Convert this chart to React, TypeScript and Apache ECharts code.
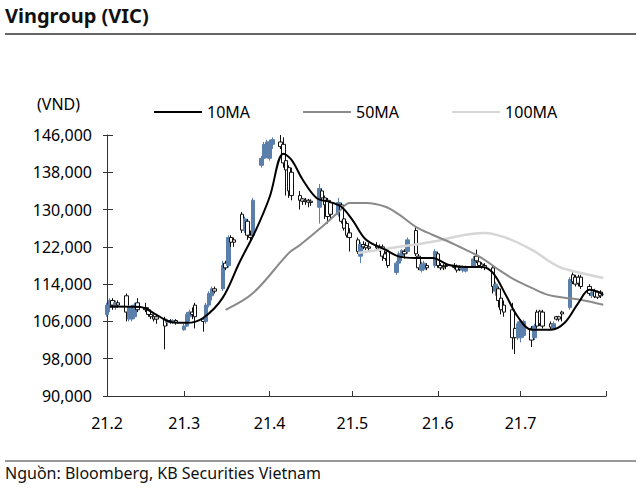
import React, { useEffect, useRef } from "react";
import * as echarts from "echarts";

// Daily candles, VND: [date (MM-DD, 2021), open, close, low, high]
const febCandles: [string, number, number, number, number][] = [
  ["02-01", 107500, 109500, 107000, 110000],
  ["02-02", 109000, 110500, 108000, 111000],
  ["02-03", 110500, 109500, 108500, 111000],
  ["02-04", 109000, 110000, 108500, 110500],
  ["02-05", 110000, 109500, 109000, 110500],
  ["02-08", 111500, 108000, 106000, 112000],
  ["02-09", 106500, 109000, 106000, 109500],
  ["02-10", 106500, 109000, 106000, 109500],
  ["02-11", 107000, 109500, 106500, 110000],
  ["02-12", 110000, 108500, 108000, 111000],
  ["02-15", 109000, 108500, 108000, 110000],
  ["02-16", 108500, 107500, 107000, 109000],
  ["02-17", 107500, 107000, 106500, 108000],
  ["02-18", 107000, 106500, 106000, 107500],
  ["02-19", 107000, 106500, 105500, 107500],
  ["02-22", 106500, 105000, 100000, 107000],
  ["02-23", 105800, 106000, 105000, 106500],
  ["02-24", 106200, 106000, 105500, 106500],
  ["02-25", 106000, 106200, 105500, 106500],
  ["02-26", 106200, 105800, 105300, 106500],
];

const marCandles: [string, number, number, number, number][] = [
  ["03-01", 104200, 105000, 104000, 105500],
  ["03-02", 105000, 107500, 104800, 108000],
  ["03-03", 107000, 108000, 106000, 108500],
  ["03-04", 108000, 107500, 106500, 109000],
  ["03-05", 109500, 107000, 104500, 110000],
  ["03-08", 106500, 106000, 103800, 107000],
  ["03-09", 106000, 109500, 105500, 110000],
  ["03-10", 109500, 112000, 109000, 112500],
  ["03-11", 111500, 113000, 110500, 113500],
  ["03-12", 113000, 112500, 112000, 113500],
  ["03-15", 113000, 118000, 112500, 119000],
  ["03-16", 118500, 117500, 117000, 119000],
  ["03-17", 118000, 124000, 117500, 124500],
  ["03-18", 124000, 123000, 122000, 124500],
  ["03-19", 123500, 123000, 122000, 124000],
  ["03-22", 129000, 125600, 125000, 129500],
  ["03-23", 125500, 128000, 125000, 128500],
  ["03-24", 127500, 124500, 123500, 128000],
  ["03-25", 124500, 124000, 123000, 125500],
  ["03-26", 124500, 132000, 124000, 132500],
  ["03-29", 139500, 141000, 139000, 141500],
  ["03-30", 141000, 144000, 140000, 144500],
  ["03-31", 143500, 144500, 141000, 145000],
];

const aprCandles: [string, number, number, number, number][] = [
  ["04-01", 141000, 144500, 140500, 145000],
  ["04-02", 144000, 145000, 143000, 145500],
  ["04-05", 144500, 143500, 143000, 146000],
  ["04-06", 144000, 140000, 139000, 145500],
  ["04-07", 140500, 138500, 133000, 141000],
  ["04-08", 139000, 134000, 132500, 139500],
  ["04-09", 138000, 133000, 132000, 139000],
  ["04-12", 133000, 132000, 130000, 134000],
  ["04-13", 132300, 131800, 131000, 132500],
  ["04-14", 132000, 131700, 131000, 132500],
  ["04-15", 132000, 131600, 130500, 132300],
  ["04-16", 131800, 131500, 130800, 132200],
  ["04-19", 130500, 134500, 127000, 135500],
  ["04-20", 134000, 132500, 132000, 134500],
  ["04-21", 132500, 131000, 128000, 133000],
  ["04-22", 132000, 128500, 127000, 132500],
  ["04-23", 131500, 129000, 128000, 132000],
  ["04-26", 129000, 131500, 128500, 132500],
  ["04-27", 131000, 127500, 127000, 131500],
  ["04-28", 128000, 126000, 125500, 128500],
  ["04-29", 127000, 124500, 124000, 127500],
  ["04-30", 125000, 124000, 121000, 126000],
];

const mayCandles: [string, number, number, number, number][] = [
  ["05-03", 123500, 121000, 120500, 124000],
  ["05-04", 120000, 122500, 118500, 123000],
  ["05-05", 122500, 122000, 121500, 123200],
  ["05-06", 122300, 121800, 121300, 123000],
  ["05-07", 122000, 121700, 121000, 122800],
  ["05-10", 122200, 121800, 121200, 123000],
  ["05-11", 122000, 121500, 121000, 122500],
  ["05-12", 122000, 120000, 119000, 122500],
  ["05-13", 120500, 119500, 119000, 121000],
  ["05-14", 121000, 118000, 117500, 121500],
  ["05-17", 116500, 118500, 116000, 119000],
  ["05-18", 118500, 120500, 118000, 121000],
  ["05-19", 120000, 121200, 119000, 121500],
  ["05-20", 121000, 120500, 119500, 121500],
  ["05-21", 121000, 123500, 120500, 124000],
  ["05-24", 125500, 120500, 120000, 126300],
  ["05-25", 120000, 117500, 117000, 120500],
  ["05-26", 117000, 118200, 116500, 118800],
  ["05-27", 117200, 118500, 116800, 119000],
  ["05-28", 118000, 117500, 117000, 118500],
  ["05-31", 118000, 121000, 117500, 121500],
];

const junCandles: [string, number, number, number, number][] = [
  ["06-01", 120500, 118000, 117500, 121000],
  ["06-02", 118000, 117500, 117000, 118500],
  ["06-03", 117800, 117500, 117000, 118300],
  ["06-04", 118000, 117800, 117200, 118500],
  ["06-07", 118000, 117600, 117200, 118500],
  ["06-08", 117800, 117000, 116500, 118200],
  ["06-09", 117500, 117200, 116800, 118000],
  ["06-10", 117000, 117500, 116500, 118000],
  ["06-11", 116800, 117600, 116500, 118000],
  ["06-14", 117800, 119400, 117500, 120000],
  ["06-15", 120000, 119000, 118500, 121400],
  ["06-16", 118800, 118000, 117500, 119000],
  ["06-17", 118300, 117800, 117300, 118700],
  ["06-18", 118000, 117600, 117000, 118500],
  ["06-21", 117500, 113500, 112000, 118000],
  ["06-22", 112500, 114000, 111500, 114500],
  ["06-23", 113000, 110500, 109000, 113500],
  ["06-24", 111000, 108500, 107500, 111500],
  ["06-25", 109500, 108000, 107000, 110500],
  ["06-28", 108500, 102500, 100000, 110000],
  ["06-29", 104500, 102500, 99000, 105000],
  ["06-30", 102500, 105500, 102000, 106000],
];

const julCandles: [string, number, number, number, number][] = [
  ["07-01", 102500, 106000, 101500, 106500],
  ["07-02", 103000, 106000, 102500, 106400],
  ["07-05", 104500, 102000, 100500, 105000],
  ["07-06", 102500, 105000, 102000, 105500],
  ["07-07", 108000, 105000, 104500, 108500],
  ["07-08", 108200, 105500, 105000, 108500],
  ["07-09", 108000, 105000, 104500, 108500],
  ["07-12", 105500, 104800, 104300, 106000],
  ["07-13", 104500, 105500, 104200, 106000],
  ["07-14", 107000, 106500, 106200, 107200],
  ["07-15", 107000, 106500, 106000, 107200],
  ["07-16", 108000, 107600, 106000, 108300],
  ["07-19", 109000, 115000, 108500, 115500],
  ["07-20", 116000, 114500, 114000, 116500],
  ["07-21", 115500, 114000, 113500, 116000],
  ["07-22", 115500, 114200, 113500, 116000],
  ["07-23", 115500, 113500, 113000, 116000],
  ["07-26", 113500, 112000, 111500, 114000],
  ["07-27", 111500, 112300, 111000, 112700],
  ["07-28", 112500, 111300, 111000, 113000],
  ["07-29", 112300, 111200, 110800, 112600],
  ["07-30", 112300, 111500, 111000, 112700],
];

// Moving averages: [date, VND]
const ma10: [string, number][] = [
  ["02-02", 109200], ["02-13", 109100], ["02-19", 107400], ["02-24", 105900],
  ["03-02", 105700], ["03-08", 106800], ["03-15", 111100], ["03-21", 118600],
  ["03-27", 125600], ["04-01", 132700], ["04-06", 142000], ["04-09", 140600],
  ["04-13", 136400], ["04-18", 132500], ["04-23", 131600], ["04-27", 130600],
  ["05-01", 127800], ["05-06", 123500], ["05-13", 121400], ["05-18", 119900],
  ["05-24", 119600], ["05-30", 119600], ["06-05", 118100], ["06-11", 117700],
  ["06-17", 117700], ["06-21", 116400], ["06-26", 111300], ["06-30", 107000],
  ["07-05", 104200], ["07-12", 104200], ["07-17", 105700], ["07-22", 110000],
  ["07-26", 112800], ["07-29", 112400], ["07-31", 111700],
];

const ma50: [string, number][] = [
  ["03-16", 108500], ["03-26", 112100], ["04-08", 120700], ["04-12", 122400],
  ["04-20", 126300], ["04-26", 129500], ["04-30", 131400], ["05-06", 131400],
  ["05-13", 130600], ["05-18", 128900], ["05-24", 126300], ["05-30", 124600],
  ["06-05", 123100], ["06-11", 121400], ["06-17", 119600], ["06-23", 117100],
  ["06-29", 114900], ["07-05", 113200], ["07-11", 111700], ["07-17", 111100],
  ["07-23", 110600], ["07-31", 109600],
];

const ma100: [string, number][] = [
  ["05-03", 120700], ["05-18", 122000], ["05-30", 123100], ["06-11", 124600],
  ["06-18", 125000], ["06-26", 123900], ["07-05", 121400], ["07-15", 117700],
  ["07-23", 116400], ["07-31", 115300],
];

const seriesNames = ["10MA", "50MA", "100MA"];
const seriesColors = ["#000000", "#8a8a8a", "#d6d6d6"];
const yMin = 90000;
const yMax = 146000;
const yStep = 8000;
const firstDay = "2021-02-01";
const lastDay = "2021-08-01";

function buildCalendar(): string[] {
  const out: string[] = [];
  const d = new Date(firstDay + "T00:00:00Z");
  const end = new Date(lastDay + "T00:00:00Z");
  while (d <= end) {
    const m = String(d.getUTCMonth() + 1).padStart(2, "0");
    const day = String(d.getUTCDate()).padStart(2, "0");
    out.push(`${m}-${day}`);
    d.setUTCDate(d.getUTCDate() + 1);
  }
  return out;
}

export default function App() {
  const ref = useRef<HTMLDivElement>(null);

  useEffect(() => {
    if (!ref.current) return;
    const chart = echarts.init(ref.current, undefined, { renderer: "svg" });
    const days = buildCalendar();
    const pos = (k: string) => days.indexOf(k);
    const candles = [
      ...febCandles, ...marCandles, ...aprCandles,
      ...mayCandles, ...junCandles, ...julCandles,
    ].map((r) => [pos(r[0]), r[1], r[2], r[3], r[4]]);
    const maData = [ma10, ma50, ma100].map((arr) => arr.map((p) => [pos(p[0]), p[1]]));
    const font = "'Noto Sans', sans-serif";
    const isMonthStart = (_i: number, v: string) => v.endsWith("-01");

    const yAxisBase = {
      type: "value",
      min: yMin,
      max: yMax,
      interval: yStep,
      splitLine: { show: false },
    };

    chart.setOption({
      animation: false,
      textStyle: { fontFamily: font },
      grid: { left: 107, right: 34, top: 135, bottom: 98, containLabel: false },
      legend: {
        data: seriesNames,
        left: 149,
        top: 99,
        icon: "rect",
        itemWidth: 48,
        itemHeight: 2,
        itemGap: 53,
        textStyle: { fontSize: 16, color: "#000", fontFamily: font },
      },
      xAxis: {
        type: "category",
        data: days,
        boundaryGap: false,
        axisLine: { lineStyle: { color: "#333", width: 1 } },
        axisTick: { show: true, inside: true, length: 5, interval: isMonthStart, lineStyle: { color: "#333" } },
        axisLabel: {
          interval: (i: number, v: string) => v.endsWith("-01") && v !== "08-01",
          formatter: (v: string) => "21." + Number(v.slice(0, 2)),
          margin: 19,
          fontSize: 16,
          color: "#000",
          fontFamily: font,
        },
        splitLine: { show: false },
      },
      yAxis: [
        {
          ...yAxisBase,
          axisLine: { show: true, lineStyle: { color: "#333", width: 1 } },
          axisTick: { show: true, length: 4, lineStyle: { color: "#333" } },
          axisLabel: {
            formatter: (v: number) => v.toLocaleString("en-US"),
            fontSize: 16,
            color: "#000",
            margin: 15,
            fontFamily: font,
          },
        },
        {
          ...yAxisBase,
          position: "left",
          axisLine: { show: false },
          axisTick: { show: true, inside: true, length: 6, lineStyle: { color: "#333" } },
          axisLabel: { show: false },
        },
      ],
      series: [
        {
          name: "VIC",
          type: "candlestick",
          data: candles,
          encode: { x: 0, y: [1, 2, 3, 4] },
          barWidth: 4,
          z: 2,
          itemStyle: {
            color: "#5b7fab",
            borderColor: "#5b7fab",
            color0: "#ffffff",
            borderColor0: "#111111",
            borderWidth: 1,
          },
        },
        ...seriesNames.map((name, i) => ({
          name,
          type: "line",
          data: maData[i],
          smooth: 0.35,
          showSymbol: false,
          symbol: "none",
          z: 3 + (2 - i),
          lineStyle: { color: seriesColors[i], width: i === 2 ? 2.5 : 2 },
          itemStyle: { color: seriesColors[i] },
        })),
      ],
      graphic: [
        {
          type: "text",
          left: 5,
          top: 5,
          style: { text: "Vingroup (VIC)", font: `bold 20px ${font}`, fill: "#111" },
        },
        {
          type: "line",
          shape: { x1: 5, y1: 34, x2: 636, y2: 34 },
          style: { stroke: "#333", lineWidth: 1.5 },
        },
        {
          type: "text",
          left: 37,
          top: 96,
          style: { text: "(VND)", font: `16px ${font}`, fill: "#000" },
        },
        {
          type: "line",
          shape: { x1: 5, y1: 461, x2: 636, y2: 461 },
          style: { stroke: "#333", lineWidth: 1.2 },
        },
        {
          type: "text",
          left: 5,
          top: 465,
          style: { text: "Nguồn: Bloomberg, KB Securities Vietnam", font: `16px ${font}`, fill: "#111" },
        },
      ],
    });
    return () => chart.dispose();
  }, []);

  return (
    <div
      ref={ref}
      style={{ position: "absolute", left: 0, top: 0, width: 640, height: 494 }}
    />
  );
}
